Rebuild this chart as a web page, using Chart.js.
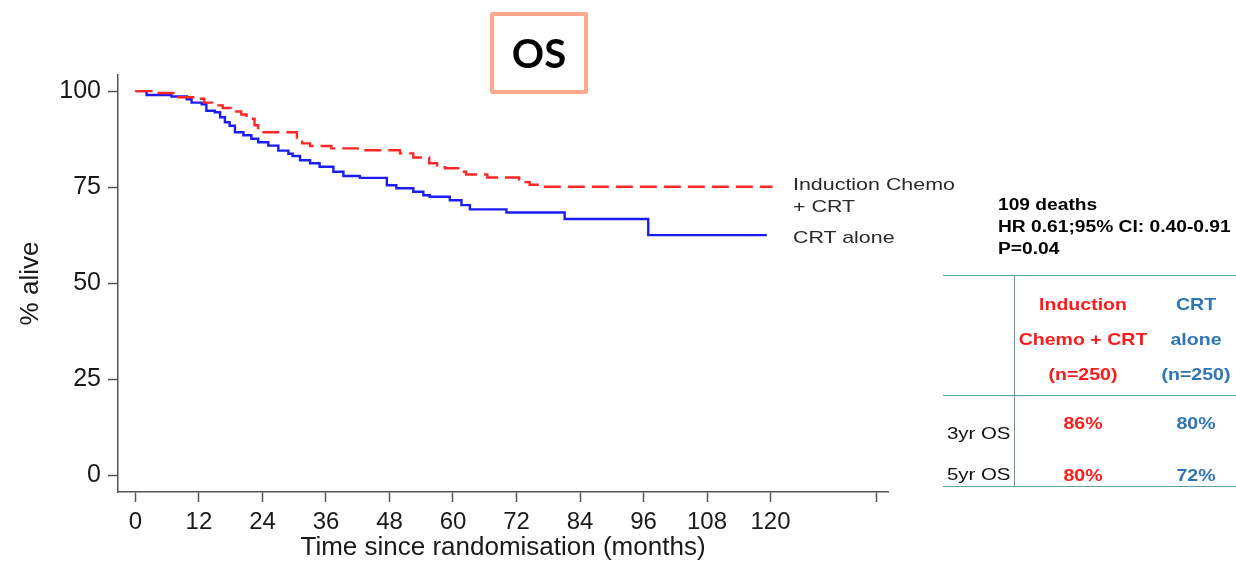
<!DOCTYPE html>
<html>
<head>
<meta charset="utf-8">
<script src="https://cdn.jsdelivr.net/npm/chart.js@4.4.1/dist/chart.umd.min.js"></script>
<style>
  body { margin: 0; background: #fff; font-family: "Liberation Sans", Arial, sans-serif; }
  #wrap { position: relative; width: 1236px; height: 561px; overflow: hidden; }
  #myChart { position: absolute; left: 0; top: 0; }
  .t { position: absolute; white-space: nowrap; transform: translate(-50%, -50%) scaleX(1.15); }
  .l { position: absolute; white-space: nowrap; transform-origin: left center; transform: translateY(-50%) scaleX(1.2); }
  .red { color: #ff1a1a; font-weight: bold; font-size: 17px; }
  .blue { color: #2e75b6; font-weight: bold; font-size: 17px; }
  .note { font-size: 17px; color: #2a2a2a; transform: translateY(-50%) scaleX(1.26); }
  .hr { position: absolute; height: 0; border-top: 1.5px solid #5a9fa3; }
  .vr { position: absolute; width: 0; border-left: 1.5px solid #5a9fa3; }
  #osbox { position: absolute; left: 490px; top: 12px; width: 98px; height: 82px; box-sizing: border-box;
    border: 4px solid #ffa98c; border-radius: 2px; display: flex; align-items: center; justify-content: center;
    font-family: Lato, "Open Sans", sans-serif; font-weight: bold; font-size: 40px; color: #000; }
</style>
</head>
<body>
<div id="wrap">
  <canvas id="myChart" width="1236" height="561"></canvas>
  <div id="osbox">OS</div>

  <div class="l note" style="left:793px; top:185px;">Induction Chemo</div>
  <div class="l note" style="left:793px; top:207px;">+ CRT</div>
  <div class="l note" style="left:793px; top:238px;">CRT alone</div>

  <div class="l" style="left:998px; top:205px; font-weight:bold; font-size:16px; color:#000;">109 deaths</div>
  <div class="l" style="left:998px; top:227px; font-weight:bold; font-size:16px; color:#000;">HR 0.61;95% CI: 0.40-0.91</div>
  <div class="l" style="left:998px; top:249px; font-weight:bold; font-size:16px; color:#000;">P=0.04</div>

  <div class="hr" style="left:943px; top:275px; width:293px;"></div>
  <div class="hr" style="left:943px; top:395px; width:293px;"></div>
  <div class="hr" style="left:943px; top:486px; width:293px;"></div>
  <div class="vr" style="left:1014px; top:275px; height:212px;"></div>

  <div class="t red" style="left:1083px; top:305px;">Induction</div>
  <div class="t red" style="left:1083px; top:340px;">Chemo + CRT</div>
  <div class="t red" style="left:1083px; top:375px;">(n=250)</div>
  <div class="t blue" style="left:1196px; top:305px;">CRT</div>
  <div class="t blue" style="left:1196px; top:340px;">alone</div>
  <div class="t blue" style="left:1196px; top:375px;">(n=250)</div>

  <div class="l" style="left:947px; top:434px; font-size:17px; color:#111;">3yr OS</div>
  <div class="l" style="left:947px; top:475px; font-size:17px; color:#111;">5yr OS</div>
  <div class="t red" style="left:1083px; top:424px;">86%</div>
  <div class="t blue" style="left:1196px; top:424px;">80%</div>
  <div class="t red" style="left:1083px; top:476px;">80%</div>
  <div class="t blue" style="left:1196px; top:476px;">72%</div>
</div>

<script>
// Kaplan-Meier steps (month, % alive)
var redMonths = [0, 4, 7.5, 11.5, 13, 14.5, 16.5, 18, 20, 21, 22.5, 23.2, 30.5, 31.5, 33, 37, 42, 50, 52.5, 55.5, 57, 58.5, 61, 62.5, 66.5, 72.5, 74.5, 76.5, 120.4];
var redSurv   = [100, 99.5, 98.4, 98.0, 97.0, 96.3, 95.6, 94.7, 93.9, 92.8, 91.1, 89.3, 87.2, 86.4, 85.7, 85.1, 84.6, 83.8, 82.7, 81.2, 80.2, 79.9, 79.0, 78.3, 77.5, 76.3, 75.6, 75.1, 75.1];

var blueMonths = [0, 2.1, 6.8, 9.7, 10.6, 12.5, 13.4, 15, 16, 16.9, 17.8, 18.8, 20.4, 21.9, 23.2, 25.1, 27, 28.9, 29.7, 31.1, 33, 34.8, 37.4, 39.3, 42.4, 47.5, 49.3, 52.5, 54.4, 55.6, 59.4, 61.6, 63.2, 70.1, 81.1, 96.9, 119.3];
var blueSurv   = [100, 99.0, 98.6, 97.9, 97.0, 96.6, 94.9, 94.5, 93.2, 91.9, 91.0, 89.3, 88.5, 87.6, 86.7, 85.8, 84.5, 83.7, 83.1, 82.0, 81.2, 80.3, 79.0, 77.9, 77.4, 75.5, 74.7, 73.8, 72.9, 72.5, 71.6, 70.3, 69.2, 68.4, 66.7, 62.5, 62.5];

var xTicks = [0, 12, 24, 36, 48, 60, 72, 84, 96, 108, 120, 140];
var xLabelMax = 120;
var yTicks = [0, 25, 50, 75, 100];

function pts(xs, ys) {
  var out = [];
  for (var i = 0; i < xs.length; i++) out.push({x: xs[i], y: ys[i]});
  return out;
}

var fam = '"Liberation Sans", Arial, sans-serif';
var axisCol = "#555";

new Chart("myChart", {
  type: "line",
  data: {
    datasets: [
      {
        label: "Induction Chemo + CRT",
        data: pts(redMonths, redSurv),
        borderColor: "#ff2626",
        borderWidth: 2.4,
        borderDash: [17, 7],
        stepped: true,
        pointRadius: 0,
        fill: false
      },
      {
        label: "CRT alone",
        data: pts(blueMonths, blueSurv),
        borderColor: "#1c1cf5",
        borderWidth: 2.4,
        stepped: true,
        pointRadius: 0,
        fill: false
      }
    ]
  },
  options: {
    responsive: false,
    animation: false,
    devicePixelRatio: 1,
    layout: { padding: { top: 75, right: 348, left: 0, bottom: 0 } },
    plugins: { legend: { display: false }, tooltip: { enabled: false } },
    scales: {
      x: {
        type: "linear",
        min: -3.3,
        max: 142.2,
        afterBuildTicks: function (s) { s.ticks = xTicks.map(function (v) { return {value: v}; }); },
        afterFit: function (s) { s.height = 69; },
        ticks: {
          autoSkip: false, maxRotation: 0, padding: 6, color: "#1a1a1a",
          font: { family: fam, size: 24 },
          callback: function (v) { return v <= xLabelMax ? v : ""; }
        },
        grid: { display: true, drawOnChartArea: false, drawTicks: true, tickLength: 10, tickColor: axisCol, tickWidth: 1.5 },
        border: { display: true, color: axisCol, width: 1.5 },
        title: { display: true, text: "Time since randomisation (months)", color: "#1a1a1a",
          font: { family: fam, size: 26, lineHeight: 1 }, padding: { top: 0, bottom: 0 } }
      },
      y: {
        type: "linear",
        min: -4.4,
        max: 104.2,
        afterBuildTicks: function (s) { s.ticks = yTicks.map(function (v) { return {value: v}; }); },
        afterFit: function (s) { s.width = 118; },
        ticks: { padding: 7, color: "#1a1a1a", font: { family: fam, size: 25 } },
        grid: { display: true, drawOnChartArea: false, drawTicks: true, tickLength: 10, tickColor: axisCol, tickWidth: 1.5 },
        border: { display: true, color: axisCol, width: 1.5 },
        title: { display: true, text: "% alive", color: "#1a1a1a",
          font: { family: fam, size: 26, lineHeight: 1.2 }, padding: { top: 15, bottom: 0 } }
      }
    }
  }
});
</script>
</body>
</html>
